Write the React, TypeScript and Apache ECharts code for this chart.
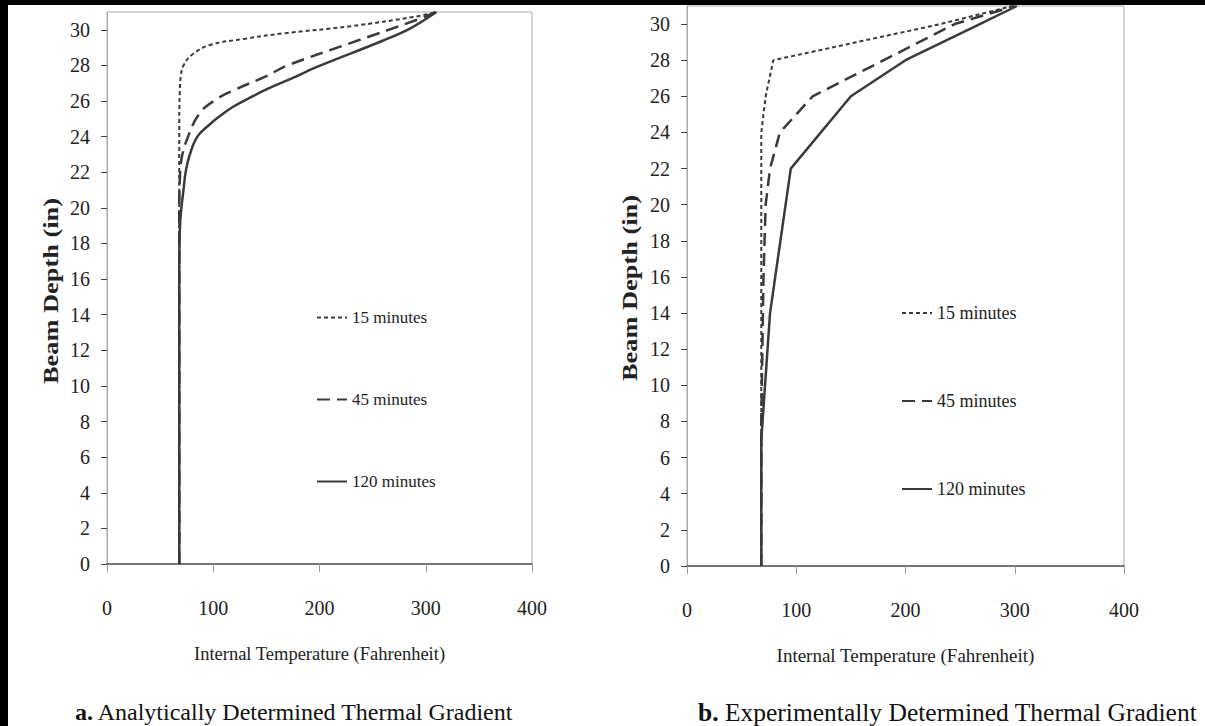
import React, { useEffect, useRef } from "react";
import * as echarts from "echarts";

const FONT = '"Liberation Serif", "Times New Roman", serif';

const seriesNames = ["15 minutes", "45 minutes", "120 minutes"];
const yTicks = [0, 2, 4, 6, 8, 10, 12, 14, 16, 18, 20, 22, 24, 26, 28, 30];
const xTicks = [0, 100, 200, 300, 400];

// Analytical (chart a): [temperature F, depth in]
const analytical15: [number, number][] = [
  [68, 0], [68, 22], [68, 25], [68.5, 26.5], [69.5, 27.4], [72, 28], [80, 28.6], [97, 29.15],
  [130, 29.5], [166, 29.8], [229, 30.2], [291, 30.75], [310, 31],
];
const analytical45: [number, number][] = [
  [68, 0], [68, 20], [68.5, 21.5], [70, 22.7], [75, 23.8], [87, 25.3], [103, 26.1], [119, 26.6],
  [150, 27.4], [170, 28], [229, 29.25], [291, 30.55], [310, 31],
];
const analytical120: [number, number][] = [
  [68, 0], [68, 17], [68.7, 19], [70, 20], [72, 21], [74, 22], [78, 23], [85, 24],
  [95, 24.6], [105, 25.1], [118, 25.65], [135, 26.2], [150, 26.65], [175, 27.3], [197, 27.9],
  [260, 29.4], [286, 30.1], [310, 31],
];

// Experimental (chart b)
const experimental15: [number, number][] = [
  [68, 0], [68, 24], [72, 26], [79, 28], [232, 30], [298, 31],
];
const experimental45: [number, number][] = [
  [68, 0], [68, 8], [70, 16], [72, 20], [76, 22], [85, 24], [115, 26], [245, 30], [300, 31],
];
const experimental120: [number, number][] = [
  [68, 0], [68, 7], [76, 14], [95, 22], [150, 26], [200, 28], [268, 30], [302, 31],
];

const LINE_COLOR = "#3a3a3a";
const lineStyles: any[] = [
  { type: [4, 3], width: 2, color: LINE_COLOR },
  { type: [13, 7], width: 2.5, color: LINE_COLOR },
  { type: "solid", width: 2.5, color: LINE_COLOR },
];

function makeX(gridIndex: number, nameSize: number) {
  return {
    gridIndex,
    type: "value",
    min: 0,
    max: 400,
    interval: 100,
    axisLine: { show: true, onZero: false, lineStyle: { color: "#555", width: 1.6 } },
    axisTick: { show: true, length: 8, customValues: xTicks, lineStyle: { color: "#999" } },
    axisLabel: { customValues: xTicks, margin: 34, fontSize: 20, fontFamily: FONT, color: "#222" },
    splitLine: { show: false },
    name: "Internal Temperature (Fahrenheit)",
    nameLocation: "middle",
    nameGap: 80,
    nameTextStyle: { fontSize: nameSize, fontFamily: FONT, color: "#222" },
  };
}

function makeY(gridIndex: number) {
  return {
    gridIndex,
    type: "value",
    min: 0,
    max: 31,
    interval: 2,
    axisLine: { show: true, onZero: false, lineStyle: { color: "#aaa", width: 1 } },
    axisTick: { show: true, length: 6, customValues: yTicks, lineStyle: { color: "#444" } },
    axisLabel: { customValues: yTicks, margin: 17, fontSize: 20, fontFamily: FONT, color: "#222" },
    splitLine: { show: false },
  };
}

function makeSeries(data: [number, number][], idx: number, axisIndex: number, smooth: boolean) {
  return {
    type: "line",
    name: seriesNames[idx],
    xAxisIndex: axisIndex,
    yAxisIndex: axisIndex,
    data,
    symbol: "none",
    smooth: smooth ? 0.4 : false,
    lineStyle: lineStyles[idx],
    itemStyle: { color: LINE_COLOR },
    clip: true,
  };
}

function makeLegend(left: number, top: number, gap: number, size: number) {
  return {
    data: seriesNames,
    orient: "vertical",
    left,
    top,
    padding: 0,
    itemWidth: 30,
    itemHeight: 14,
    itemGap: gap,
    selectedMode: false,
    itemStyle: { opacity: 0 },
    textStyle: { fontSize: size, fontFamily: FONT, color: "#222" },
  };
}

export default function App() {
  const ref = useRef<HTMLDivElement>(null);
  useEffect(() => {
    const chart = echarts.init(ref.current!, null, { renderer: "svg" });
    const option: any = {
      animation: false,
      backgroundColor: "#ffffff",
      grid: [
        { left: 107, top: 12, width: 425, height: 552, show: true, borderColor: "#aaa", borderWidth: 1, backgroundColor: "#fff" },
        { left: 687, top: 6, width: 437, height: 560, show: true, borderColor: "#aaa", borderWidth: 1, backgroundColor: "#fff" },
      ],
      xAxis: [makeX(0, 18.5), makeX(1, 19)],
      yAxis: [makeY(0), makeY(1)],
      legend: [makeLegend(316, 309, 65, 17), makeLegend(901, 304, 70, 18)],
      series: [
        makeSeries(analytical15, 0, 0, true),
        makeSeries(analytical45, 1, 0, true),
        makeSeries(analytical120, 2, 0, true),
        makeSeries(experimental15, 0, 1, false),
        makeSeries(experimental45, 1, 1, false),
        makeSeries(experimental120, 2, 1, false),
      ],
      graphic: [
        {
          type: "text",
          x: 50,
          y: 291,
          rotation: Math.PI / 2,
          scaleX: 1.2,
          style: { text: "Beam Depth (in)", font: `bold 22px ${FONT}`, fill: "#222", align: "center", verticalAlign: "middle" },
        },
        {
          type: "text",
          x: 629,
          y: 288,
          rotation: Math.PI / 2,
          scaleX: 1.2,
          style: { text: "Beam Depth (in)", font: `bold 22px ${FONT}`, fill: "#222", align: "center", verticalAlign: "middle" },
        },
        {
          type: "text",
          x: 75,
          y: 712,
          style: {
            text: "{b|a.} Analytically Determined Thermal Gradient",
            fontSize: 24,
            fontFamily: FONT,
            fill: "#111",
            verticalAlign: "middle",
            rich: { b: { fontWeight: "bold", fontSize: 24, fontFamily: FONT, fill: "#111" } },
          },
        },
        {
          type: "text",
          x: 698,
          y: 712,
          style: {
            text: "{b|b.} Experimentally Determined Thermal Gradient",
            fontSize: 25.5,
            fontFamily: FONT,
            fill: "#111",
            verticalAlign: "middle",
            rich: { b: { fontWeight: "bold", fontSize: 25.5, fontFamily: FONT, fill: "#111" } },
          },
        },
        { type: "rect", z: 100, shape: { x: 0, y: 0, width: 1205, height: 5 }, style: { fill: "#000" } },
        { type: "rect", z: 100, shape: { x: 0, y: 0, width: 8, height: 726 }, style: { fill: "#000" } },
      ],
    };
    chart.setOption(option);
    return () => chart.dispose();
  }, []);
  return (
    <div
      ref={ref}
      style={{ position: "absolute", left: 0, top: 0, width: 1205, height: 726, background: "#fff" }}
    />
  );
}
